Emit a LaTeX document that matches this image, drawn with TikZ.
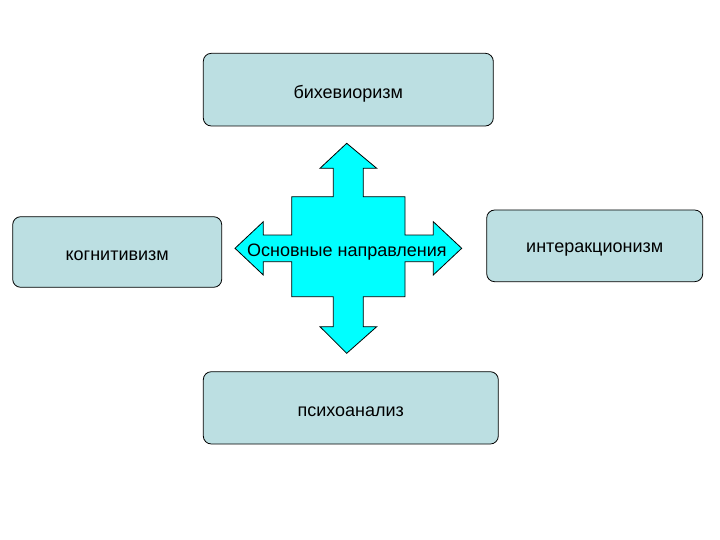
\documentclass[tikz,border=0pt]{standalone}
\usepackage{fontspec}
\setmainfont{Liberation Sans}
\begin{document}
\begin{tikzpicture}[x=1pt,y=-1pt,
  box/.style={draw=black,line width=0.8pt,fill=boxfill,rounded corners=8pt},
  boxtext/.style={text=black,font=\fontsize{18}{20}\selectfont,yshift=-4pt}]
\definecolor{boxfill}{RGB}{188,223,226}
\definecolor{crossfill}{RGB}{0,255,255}
\useasboundingbox (0,0) rectangle (720,540);
\path[box] (203.3,53.3) rectangle (493.3,126) node[midway,boxtext] (beh) {бихевиоризм};
\path[box] (12.7,216.7) rectangle (221.7,287.3) node[midway,boxtext] (cog) {когнитивизм};
\path[box] (486.7,210) rectangle (702.7,281.7) node[midway,boxtext] (inter) {интеракционизм};
\path[box] (203.3,371.7) rectangle (498.3,444) node[midway,boxtext] (psy) {психоанализ};
\draw[draw=black,line width=0.8pt,fill=crossfill]
  (346.7,143.3) -- (376.7,168.3) -- (363.3,168.3) -- (363.3,196.7) -- (405,196.7)
  -- (405,235) -- (433.3,235) -- (433.3,221.7) -- (461.7,248.3) -- (433.3,275)
  -- (433.3,261.7) -- (405,261.7) -- (405,296.7) -- (363.3,296.7) -- (363.3,326.7)
  -- (376.7,326.7) -- (346.7,353.3) -- (320,326.7) -- (333.3,326.7) -- (333.3,296.7)
  -- (291.7,296.7) -- (291.7,261.7) -- (263.3,261.7) -- (263.3,275) -- (235,248.3)
  -- (263.3,221.7) -- (263.3,235) -- (291.7,235) -- (291.7,196.7) -- (333.3,196.7)
  -- (333.3,168.3) -- (320,168.3) -- cycle;
\node[font=\fontsize{18}{20}\selectfont,inner sep=0pt] (main) at (347,252) {Основные направления};
\end{tikzpicture}
\end{document}
